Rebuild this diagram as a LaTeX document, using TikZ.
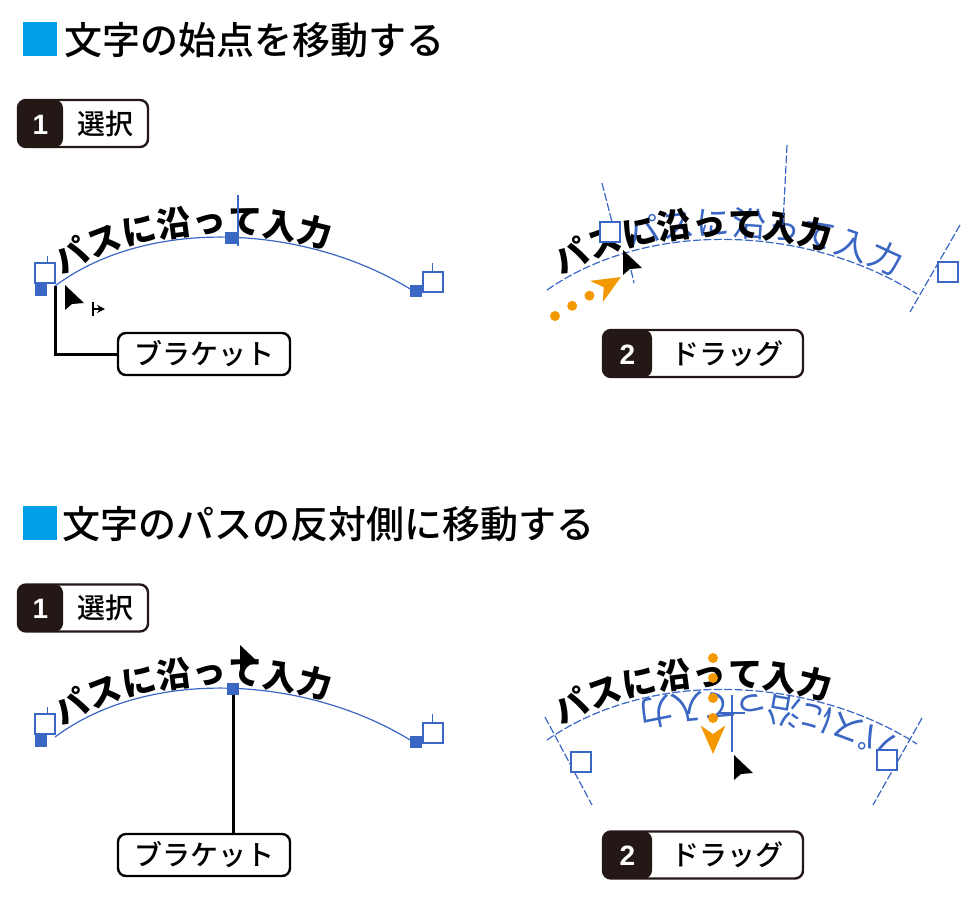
\documentclass[tikz,border=0pt]{standalone}
\usepackage{fontspec}
\setmainfont{Noto Sans CJK JP}
\newfontfamily\medfont{Noto Sans CJK JP}[UprightFont=* Medium]
\newfontfamily\numfont{Liberation Sans}
\usetikzlibrary{positioning,shapes,arrows.meta,calc,decorations.text}
\definecolor{headblue}{HTML}{00A0E9}
\definecolor{stepdark}{HTML}{231815}
\definecolor{pathblue}{HTML}{3A66C4}
\definecolor{dragorange}{HTML}{F39800}
\newcommand{\curvefont}{\fontsize{17pt}{17pt}\selectfont\bfseries}
\newcommand{\ghostfont}{\fontsize{17pt}{17pt}\selectfont}
\newcommand{\stepnum}[2]{\makebox[#1]{\numfont\bfseries\color{white}#2}}

\begin{document}
\begin{tikzpicture}[x=0.5pt,y=-0.5pt]
\tikzset{
    headsquare/.style={fill=headblue, minimum size=17pt, inner sep=0pt},
    heading/.style={font=\medfont\fontsize{19pt}{21pt}\selectfont, inner sep=0pt, anchor=west},
    stepbox/.style={draw=stepdark, line width=1.2pt, rounded corners=4pt, fill=white, inner sep=0pt, minimum height=23.5pt, font=\medfont\fontsize{14pt}{16pt}\selectfont,
        path picture={\fill[stepdark] (path picture bounding box.south west) rectangle ([xshift=#1]path picture bounding box.north west);}},
    tagbox/.style={draw=black, line width=1.2pt, rounded corners=4pt, fill=white, minimum width=86pt, minimum height=21pt, inner sep=0pt, font=\medfont\fontsize{14pt}{16pt}\selectfont},
    textpath/.style={draw=pathblue, line width=0.6pt},
    ghostpath/.style={draw=pathblue, line width=0.6pt, dash pattern=on 4pt off 1.2pt},
    ghostline/.style={draw=pathblue, line width=0.6pt, dash pattern=on 4pt off 1.2pt},
    handle/.style={draw=pathblue, fill=white, line width=0.8pt, minimum size=10pt, inner sep=0pt},
    anchorpt/.style={fill=pathblue, minimum size=6pt, inner sep=0pt},
    callout/.style={draw=black, line width=1.5pt},
    dragarrow/.style={draw=dragorange, line width=5pt, dash pattern=on 0pt off 10pt, line cap=round, -{Stealth[length=14pt, width=12pt, inset=4pt, fill=dragorange]}},
    pics/pointer/.style={code={\fill[black] (0,0) -- (0,25) -- (7,19) -- (19,18) -- cycle;}}
}
\useasboundingbox (0,0) rectangle (975,902);

% first heading
\node[headsquare] (sq1) at (39.5,39) {};
\node[heading] (head1) at (64,40) {文字の始点を移動する};
\node[stepbox=22.5pt] (sel1) at (83,123.5) {\stepnum{22.5pt}{1}\makebox[42.5pt]{選択}};

% panel 1
\coordinate (a1) at (55,286);
\draw[textpath, postaction={decorate, decoration={text along path, text={|\curvefont|パスに沿って入力}, text align={left indent=6pt}, raise=2pt}}]
    (a1) .. controls (150,215) and (310,225) .. (415,292);
\node[handle] (h1l) at (45,273) {};
\node[anchorpt] (k1l) at (41,290) {};
\node[anchorpt] (k1m) at (231,238) {};
\node[anchorpt] (k1r) at (416,291) {};
\node[handle] (h1r) at (433,282) {};
\draw[pathblue, line width=0.8pt] (238,195) -- (238,246);
\draw[pathblue] (47,256) -- (47,263);
\draw[pathblue] (432,263) -- (432,272);
\pic at (65,285) {pointer};
\draw[line width=1.2pt] (93,302) -- (93,316);
\draw[line width=1.2pt, -{Stealth[length=4pt, width=4pt]}] (93,309) -- (105,309);
\node[tagbox] (tag1) at (204,354) {ブラケット};
\draw[callout] (a1) |- (tag1);

% panel 2
\coordinate (a2) at (547,290);
\coordinate (b2) at (917,294);
\path[postaction={decorate, decoration={text along path, text color=pathblue, text={|\ghostfont|パスに沿って入力}, text align={left indent=46pt}, raise=2pt}}]
    (a2) .. controls (652,217) and (812,227) .. (b2);
\draw[ghostpath, postaction={decorate, decoration={text along path, text={|\curvefont|パスに沿って入力}, text align={left indent=10pt}, raise=2pt}}]
    (a2) .. controls (652,217) and (812,227) .. (b2);
\draw[ghostline] (602,183) -- (612,222);
\node[handle] (h2l) at (610,232) {};
\draw[ghostline] (631,270) -- (634,283);
\draw[ghostline] (787,145) -- (783,225);
\draw[ghostline] (960,225) -- (910,312);
\node[handle] (h2r) at (948,272) {};
\pic at (623,250) {pointer};
\coordinate (d2s) at (555,316);
\coordinate (d2e) at (621,277);
\draw[dragarrow] (d2s) -- (d2e);
\node[stepbox=24.5pt] (drag1) at (703,353.5) {\stepnum{24.5pt}{2}\makebox[75.5pt]{ドラッグ}};

% second heading
\node[headsquare] (sq2) at (39.5,523) {};
\node[heading] (head2) at (62,524) {文字のパスの反対側に移動する};
\node[stepbox=22.5pt] (sel2) at (83,608) {\stepnum{22.5pt}{1}\makebox[42.5pt]{選択}};

% panel 3
\draw[textpath, postaction={decorate, decoration={text along path, text={|\curvefont|パスに沿って入力}, text align={left indent=6pt}, raise=2pt}}]
    (55,737) .. controls (150,666) and (310,676) .. (415,743);
\node[handle] (h3l) at (45,724) {};
\node[anchorpt] (k3l) at (41,741) {};
\node[anchorpt] (k3m) at (233,689) {};
\node[anchorpt] (k3r) at (416,742) {};
\node[handle] (h3r) at (433,733) {};
\draw[pathblue] (47,707) -- (47,714);
\draw[pathblue] (432,714) -- (432,723);
\node[tagbox] (tag3) at (204,855) {ブラケット};
\draw[callout] (k3m) -- (k3m |- tag3.north);
\pic at (240,645) {pointer};

% panel 4
\coordinate (a4) at (547,740);
\coordinate (b4) at (917,744);
\path[postaction={decorate, decoration={text along path, text color=pathblue, text={|\ghostfont|パスに沿って入力}, text align={left indent=10pt}, raise=2pt}}]
    (b4) .. controls (812,677) and (652,667) .. (a4);
\draw[ghostpath, postaction={decorate, decoration={text along path, text={|\curvefont|パスに沿って入力}, text align={left indent=10pt}, raise=2pt}}]
    (a4) .. controls (652,667) and (812,677) .. (b4);
\draw[ghostline] (545,717) -- (592,805);
\node[handle] (h4l) at (581,762) {};
\draw[ghostline] (922,718) -- (873,805);
\node[handle] (h4r) at (887,760) {};
\draw[pathblue, line width=0.8pt] (732,695) -- (732,752);
\draw[pathblue, line width=0.8pt] (718,713) -- (745,713);
\coordinate (d4s) at (713,658);
\coordinate (d4e) at (713,754);
\draw[dragarrow] (d4s) -- (d4e);
\pic at (734,755) {pointer};
\node[stepbox=24.5pt] (drag2) at (703,855) {\stepnum{24.5pt}{2}\makebox[75.5pt]{ドラッグ}};
\end{tikzpicture}
\end{document}
